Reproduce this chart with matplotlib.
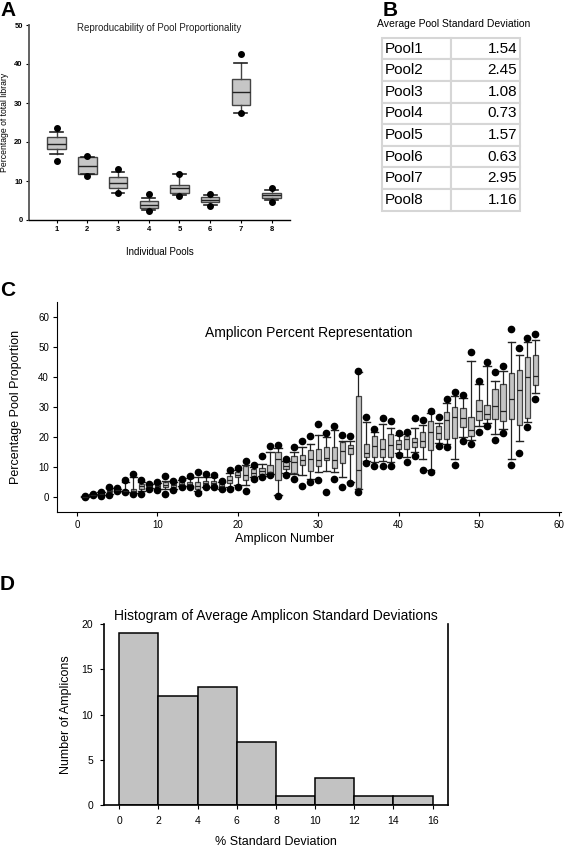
import numpy as np
import matplotlib.pyplot as plt

plt.rcParams['font.family'] = ['Liberation Sans', 'DejaVu Sans']

# -----------------------------
# Panel A: pool proportions
# -----------------------------
pools = [1, 2, 3, 4, 5, 6, 7, 8]
a_low_dot = [15.2, 11.4, 6.8, 2.3, 6.2, 3.7, 27.4, 4.7]
a_whislo = [16.9, 11.8, 7.0, 2.6, 6.4, 3.8, 27.5, 5.1]
a_q1 = [18.2, 11.8, 8.1, 3.0, 7.0, 4.7, 29.5, 5.7]
a_med = [19.5, 13.8, 9.6, 3.9, 8.1, 5.1, 32.7, 6.4]
a_q3 = [21.2, 16.2, 10.9, 4.9, 8.9, 5.8, 36.1, 7.0]
a_whishi = [22.6, 16.2, 12.4, 5.7, 11.8, 6.4, 40.2, 7.7]
a_high_dot = [23.7, 16.5, 13.2, 6.6, 11.8, 6.6, 42.5, 8.1]

# -----------------------------
# Panel B: table
# -----------------------------
pool_names = ["Pool1", "Pool2", "Pool3", "Pool4", "Pool5", "Pool6", "Pool7", "Pool8"]
pool_sd = ["1.54", "2.45", "1.08", "0.73", "1.57", "0.63", "2.95", "1.16"]

# -----------------------------
# Panel C: amplicon representation
# -----------------------------
amplicons = list(range(1, 58))
c_low_dot = [0.0, 0.5, 0.2, 0.7, 2.0, 1.6, 1.0, 1.0, 2.6, 2.3,
             1.1, 2.2, 3.3, 3.3, 1.3, 3.2, 3.2, 2.6, 2.8, 3.2,
             2.1, 6.0, 6.6, 7.3, 0.2, 7.2, 6.0, 3.7, 5.1, 5.7,
             1.8, 6.0, 3.4, 4.5, 1.8, 11.3, 10.4, 10.4, 10.2, 14.0,
             11.5, 13.7, 9.1, 8.2, 17.0, 16.8, 10.6, 18.5, 17.8, 21.7,
             23.6, 19.0, 21.2, 10.6, 14.5, 23.3, 32.7]
c_whislo = [0.05, 0.6, 0.5, 1.0, 2.1, 1.7, 1.3, 2.0, 2.9, 2.7,
            2.8, 2.8, 3.6, 3.5, 1.9, 3.4, 3.4, 2.8, 3.3, 4.0,
            4.0, 6.6, 7.0, 7.5, 0.6, 8.0, 7.5, 7.2, 6.0, 8.2,
            8.7, 8.2, 6.5, 5.0, 2.5, 12.0, 11.5, 12.0, 11.5, 14.5,
            13.2, 15.0, 12.5, 9.0, 18.0, 17.5, 12.8, 20.1, 19.0, 23.5,
            24.5, 20.9, 22.5, 12.6, 18.5, 25.0, 34.5]
c_q1 = [0.1, 0.7, 0.8, 1.5, 2.2, 1.8, 1.6, 2.5, 3.1, 3.0,
        3.3, 3.2, 3.9, 3.7, 2.6, 3.6, 3.6, 2.9, 4.6, 6.5,
        5.7, 7.1, 7.6, 7.6, 5.7, 9.3, 8.0, 10.6, 8.7, 10.2,
        12.3, 9.8, 11.3, 14.3, 2.9, 13.2, 13.2, 13.2, 13.2, 15.9,
        16.1, 16.8, 16.5, 15.6, 19.2, 19.2, 19.8, 23.4, 20.3, 25.6,
        25.9, 25.9, 25.3, 26.1, 23.9, 26.3, 37.4]
c_med = [0.15, 0.8, 1.0, 2.0, 2.4, 2.0, 2.0, 3.5, 3.5, 3.7,
         4.1, 4.0, 4.4, 4.2, 3.7, 4.5, 4.6, 3.5, 5.6, 7.4,
         7.3, 8.0, 8.5, 8.3, 12.6, 10.2, 11.5, 12.2, 12.5, 12.3,
         13.0, 12.3, 15.4, 16.3, 9.1, 14.5, 17.0, 16.1, 17.4, 17.6,
         19.3, 18.3, 18.7, 21.8, 21.4, 25.5, 26.6, 26.4, 22.3, 28.8,
         27.8, 30.3, 28.8, 32.7, 35.5, 39.9, 40.2]
c_q3 = [0.2, 0.9, 1.3, 2.5, 2.6, 2.3, 2.8, 4.4, 4.0, 4.3,
        4.9, 4.7, 4.9, 5.0, 4.9, 5.4, 5.4, 4.3, 7.1, 8.4,
        10.2, 9.3, 9.7, 10.7, 15.0, 11.5, 13.5, 13.9, 15.7, 16.1,
        16.5, 16.8, 18.3, 17.2, 33.8, 17.6, 20.3, 19.2, 20.9, 18.9,
        20.3, 19.8, 21.8, 25.3, 23.6, 28.3, 29.9, 29.5, 26.6, 32.3,
        30.7, 36.0, 37.5, 41.3, 42.4, 46.5, 47.3]
c_whishi = [0.25, 1.0, 1.6, 2.9, 2.8, 5.0, 6.8, 5.0, 4.2, 4.7,
            5.3, 5.0, 5.5, 6.2, 6.5, 6.6, 6.6, 4.9, 8.0, 9.0,
            10.8, 9.9, 11.0, 15.0, 16.2, 12.0, 15.0, 16.5, 17.8, 20.5,
            20.0, 22.2, 18.7, 18.7, 41.5, 25.0, 21.5, 24.2, 22.9, 20.5,
            21.0, 23.0, 23.9, 28.0, 24.5, 31.4, 33.6, 33.0, 45.3, 37.5,
            43.5, 38.6, 41.9, 51.5, 47.2, 51.5, 52.4]
c_high_dot = [0.3, 1.1, 1.8, 3.2, 2.9, 5.8, 7.8, 5.7, 4.4, 5.0,
              6.9, 5.4, 6.0, 7.0, 8.2, 7.6, 7.3, 5.4, 9.1, 9.8,
              11.9, 10.7, 13.5, 17.0, 17.2, 12.8, 16.5, 18.8, 20.3, 24.4,
              21.4, 23.6, 20.8, 20.3, 42.1, 26.6, 22.5, 26.3, 25.2, 21.4,
              21.7, 26.4, 25.5, 28.8, 26.7, 32.7, 35.1, 33.9, 48.2, 38.7,
              45.0, 41.7, 43.5, 56.0, 49.5, 52.9, 54.3]

# -----------------------------
# Panel D: histogram
# -----------------------------
bin_edges = [0, 2, 4, 6, 8, 10, 12, 14, 16]
bin_counts = [19, 12, 13, 7, 1, 3, 1, 1]


def make_stats(lo_dot, wlo, q1, med, q3, whi, hi_dot):
    out = []
    for i in range(len(med)):
        out.append(dict(whislo=wlo[i], q1=q1[i], med=med[i], q3=q3[i],
                        whishi=whi[i], fliers=[lo_dot[i], hi_dot[i]]))
    return out


W, H = 565, 847
fig = plt.figure(figsize=(W / 100, H / 100), dpi=100)


def axes_px(left, top, right, bottom):
    return fig.add_axes([left / W, 1 - bottom / H, (right - left) / W, (bottom - top) / H])


# ---- A ----
axA = axes_px(29, 25, 290, 220)
axA.bxp(make_stats(a_low_dot, a_whislo, a_q1, a_med, a_q3, a_whishi, a_high_dot),
        positions=pools, widths=0.6, capwidths=0.42, patch_artist=True,
        boxprops=dict(facecolor='#c6c6c6', edgecolor='#444444', linewidth=1.0),
        medianprops=dict(color='#222222', linewidth=1.0),
        whiskerprops=dict(color='#444444', linewidth=1.0),
        capprops=dict(color='#222222', linewidth=1.2),
        flierprops=dict(marker='o', markerfacecolor='black', markeredgecolor='black', markersize=4.0))
axA.set_xlim(0.1, 8.6)
axA.set_ylim(0, 50)
axA.set_yticks([0, 10, 20, 30, 40, 50])
axA.set_xticks(pools)
axA.set_xticklabels([str(p) for p in pools])
for s in ['top', 'right']:
    axA.spines[s].set_visible(False)
axA.spines['left'].set_color('#555555')
axA.spines['left'].set_linewidth(1.3)
axA.spines['bottom'].set_linewidth(1.0)
axA.tick_params(labelsize=5.5, length=2.5, width=0.8, pad=2)
for lab in axA.get_xticklabels() + axA.get_yticklabels():
    lab.set_fontweight('bold')
axA.set_ylabel("Percentage of total library", fontsize=6.2)
axA.yaxis.set_label_coords(-0.075, 0.5)
axA.set_xlabel("Individual Pools", fontsize=7, labelpad=10)
axA.text(0.5, 0.985, "Reproducability of Pool Proportionality", transform=axA.transAxes,
         ha='center', va='center', fontsize=7, color='#222222')

# ---- B ----
fig.text(377 / W, 1 - 24 / H, "Average Pool Standard Deviation", fontsize=7.5, va='center', ha='left')
axB = axes_px(381.7, 37.7, 520, 210.7)
axB.axis('off')
tbl = axB.table(cellText=[[n, v] for n, v in zip(pool_names, pool_sd)],
                bbox=[0, 0, 1, 1], edges='closed')
tbl.auto_set_font_size(False)
for (r, c), cell in tbl.get_celld().items():
    cell.set_edgecolor('#d6d6d6')
    cell.set_linewidth(1.5)
    cell.set_text_props(fontsize=11, ha='left' if c == 0 else 'right')
    cell._loc = 'left' if c == 0 else 'right'
    cell.PAD = 0.04

# ---- C ----
axC = axes_px(57.3, 302, 561, 512)
axC.bxp(make_stats(c_low_dot, c_whislo, c_q1, c_med, c_q3, c_whishi, c_high_dot),
        positions=amplicons, widths=0.65, capwidths=0.9, patch_artist=True,
        boxprops=dict(facecolor='#c4c4c4', edgecolor='#444444', linewidth=0.9),
        medianprops=dict(color='#222222', linewidth=0.9),
        whiskerprops=dict(color='#222222', linewidth=0.9),
        capprops=dict(color='#222222', linewidth=1.0),
        flierprops=dict(marker='o', markerfacecolor='black', markeredgecolor='black', markersize=4.5))
axC.set_xlim(-2.45, 60.2)
axC.set_ylim(-5, 65)
axC.set_xticks([0, 10, 20, 30, 40, 50, 60])
axC.set_xticklabels(['0', '10', '20', '30', '40', '50', '60'])
axC.set_yticks([0, 10, 20, 30, 40, 50, 60])
for s in ['top', 'right']:
    axC.spines[s].set_visible(False)
axC.tick_params(labelsize=7, length=3, width=0.8, pad=3)
axC.set_ylabel("Percentage Pool Proportion", fontsize=9)
axC.yaxis.set_label_coords(-0.07, 0.5)
axC.set_xlabel("Amplicon Number", fontsize=9)
axC.xaxis.set_label_coords(0.452, -0.1)
axC.text(0.5, 0.852, "Amplicon Percent Representation", transform=axC.transAxes,
         ha='center', va='center', fontsize=10)

# ---- D ----
axD = axes_px(104, 624, 448.3, 805)
axD.bar(bin_edges[:-1], bin_counts, width=np.diff(bin_edges), align='edge',
        color='#c2c2c2', edgecolor='black', linewidth=1.1)
axD.set_xlim(-0.78, 16.8)
axD.set_ylim(0, 20)
axD.set_xticks(bin_edges)
axD.set_yticks([0, 5, 10, 15, 20])
axD.spines['top'].set_visible(False)
for s in ['left', 'right', 'bottom']:
    axD.spines[s].set_linewidth(1.2)
axD.tick_params(labelsize=7.5, length=3, width=0.8, pad=5)
axD.set_ylabel("Number of Amplicons", fontsize=9, labelpad=7)
axD.set_xlabel("% Standard Deviation", fontsize=9, labelpad=7)
axD.set_title("Histogram of Average Amplicon Standard Deviations", fontsize=10, pad=3)

# ---- panel letters ----
for letter, x, y in [("A", 0, 10), ("B", 383, 11), ("C", 0, 290), ("D", 0, 585)]:
    fig.text(x / W, 1 - y / H, letter, fontsize=15, fontweight='bold', va='center', ha='left')

fig.savefig("out.png", dpi=100)
